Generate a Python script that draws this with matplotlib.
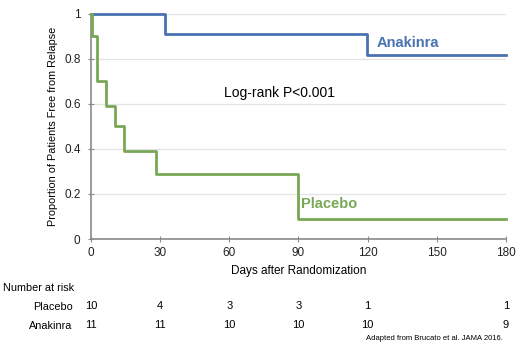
import matplotlib
matplotlib.use("Agg")
import matplotlib.pyplot as plt
import matplotlib.transforms as mtransforms

plt.rcParams['font.family'] = ['Liberation Sans', 'DejaVu Sans']

# Kaplan-Meier step data (day, survival)
placebo_days = [0, 0.5, 2.5, 6.6, 10.4, 14.4, 28.2, 89.6, 180]
placebo_surv = [1.0, 0.90, 0.70, 0.59, 0.50, 0.39, 0.29, 0.09, 0.09]
anakinra_days = [0, 32.2, 119.8, 180]
anakinra_surv = [1.0, 0.91, 0.818, 0.818]

risk_days = [0, 30, 60, 90, 120, 180]
risk_placebo = [10, 4, 3, 3, 1, 1]
risk_anakinra = [11, 11, 10, 10, 10, 9]

x_ticks = [0, 30, 60, 90, 120, 150, 180]
y_ticks = [0, 0.2, 0.4, 0.6, 0.8, 1.0]
y_ticklabels = ['0', '0.2', '0.4', '0.6', '0.8', '1']

blue = '#4a72b0'
green = '#78a856'

fig = plt.figure(figsize=(5.2, 3.5), dpi=100)
ax = fig.add_axes([0.175, 0.317, 0.798, 0.644])

ax.step(anakinra_days, anakinra_surv, where='post', color=blue, lw=2, clip_on=False, zorder=3)
ax.step(placebo_days, placebo_surv, where='post', color=green, lw=2, clip_on=False, zorder=3)

ax.set_xlim(0, 180)
ax.set_ylim(0, 1)
ax.set_xticks(x_ticks)
ax.set_yticks(y_ticks)
ax.set_yticklabels(y_ticklabels)
ax.grid(axis='y', color='#e3e3e3', lw=0.9)
ax.set_axisbelow(True)
for s in ['top', 'right']:
    ax.spines[s].set_visible(False)
for s in ['left', 'bottom']:
    ax.spines[s].set_color('#8a8a8a')
    ax.spines[s].set_linewidth(1.2)
ax.tick_params(axis='both', direction='inout', length=5, color='#8a8a8a', labelsize=8.5,
               labelcolor='#222222')
ax.tick_params(axis='y', pad=5)
ax.set_xlabel('Days after Randomization', fontsize=8.5, labelpad=4)
ax.set_ylabel('Proportion of Patients Free from Relapse', fontsize=7.8)
ax.yaxis.set_label_coords(-0.08, 0.5)

ax.text(124, 0.868, 'Anakinra', color=blue, fontsize=10.5, fontweight='bold', va='center', ha='left')
ax.text(91.3, 0.155, 'Placebo', color=green, fontsize=10.5, fontweight='bold', va='center', ha='left')
ax.text(57.5, 0.65, 'Log-rank P<0.001', color='black', fontsize=10, va='center', ha='left')

trans = mtransforms.blended_transform_factory(ax.transData, fig.transFigure)
fig.text(3/520, 1 - 288/350, 'Number at risk', fontsize=7.8, va='center', ha='left')
fig.text(72.5/520, 1 - 307/350, 'Placebo', fontsize=7.8, va='center', ha='right')
fig.text(72.5/520, 1 - 326/350, 'Anakinra', fontsize=7.8, va='center', ha='right')
for d, p, a in zip(risk_days, risk_placebo, risk_anakinra):
    ax.text(d, 1 - 306/350, str(p), transform=trans, fontsize=8, ha='center', va='center', clip_on=False)
    ax.text(d, 1 - 325/350, str(a), transform=trans, fontsize=8, ha='center', va='center', clip_on=False)

fig.text(503/520, 1 - 339/350, 'Adapted from Brucato et al. JAMA 2016.', fontsize=5.5, ha='right', va='center')

fig.savefig('out.png', dpi=100)
